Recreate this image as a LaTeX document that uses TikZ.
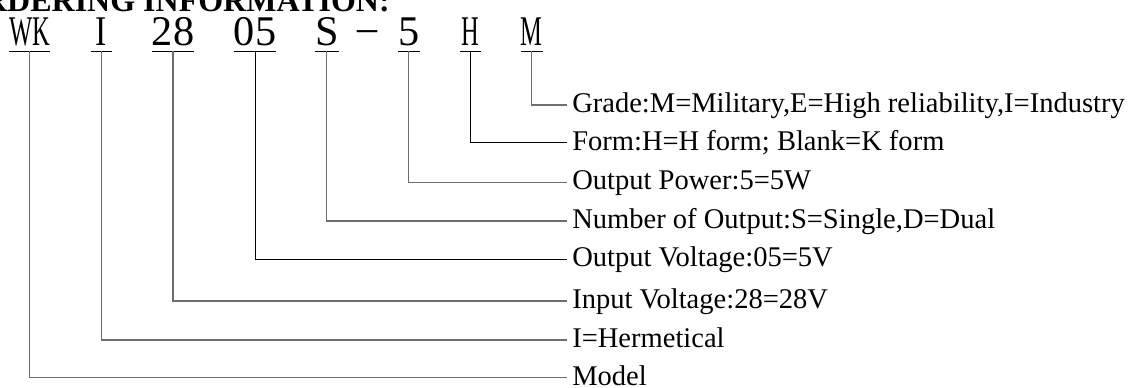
\documentclass[tikz,border=0pt]{standalone}
\usepackage{fontspec}
\setmainfont{Liberation Serif}
\usepackage{graphicx}
\usepackage{xcolor}
\definecolor{ink}{RGB}{0,0,0}
\definecolor{lgray}{RGB}{110,110,110}
\tikzset{
  code/.style={font=\fontsize{31.7}{34}\selectfont,anchor=base,inner xsep=0pt,
    inner ysep=4.5pt,text height=21pt,text depth=0pt},
  one/.style={code,minimum width=15.375pt},
  two/.style={code,minimum width=30.75pt},
  uline/.style={draw=ink,line width=0.8pt},
  lbl/.style={font=\fontsize{21.4}{25}\selectfont,anchor=west,inner xsep=3.75pt,
    inner ysep=0pt,text height=11.25pt,text depth=0pt},
  lead/.style={draw=lgray,line width=0.9pt},
  leadk/.style={draw=ink,line width=0.75pt},
  ttl/.style={font=\fontsize{24}{28}\selectfont\bfseries,anchor=base east,inner sep=0pt},
}
\newcommand{\nar}[1]{\scalebox{.58}[1]{#1}}

\begin{document}
\begin{tikzpicture}[x=0.75pt,y=-0.75pt]
  \clip (0,0) rectangle (1130,387);
  % heading, cut at the top edge
  \node[ttl] (title) at (390,11) {ORDERING INFORMATION:};

  % type code
  \node[two] (wk)  at (29.5,45)   {\nar{WK}};
  \node[one] (i)   at (101.25,45) {\scalebox{.8}[1]{I}};
  \node[two] (v28) at (173,45)    {28};
  \node[two] (v05) at (255,45)    {05};
  \node[one] (s)   at (326.75,45) {S};
  \node[one] (dash) at (367.75,41) {\scalebox{.95}[1]{--}};
  \node[one] (p5)  at (408.75,45) {5};
  \node[one] (h)   at (470.25,45) {\nar{H}};
  \node[one] (m)   at (531.75,45) {\nar{M}};
  \foreach \n in {wk,i,v28,v05,s,p5,h,m}
    \draw[uline] (\n.south west) -- (\n.south east);

  % meanings
  \node[lbl] (grade)  at (567,105)   {Grade:M=Military,E=High reliability,I=Industry};
  \node[lbl] (form)   at (567,142.7) {Form:H=H form; Blank=K form};
  \node[lbl] (power)  at (567,182.3) {Output Power:5=5W};
  \node[lbl] (number) at (567,221)   {Number of Output:S=Single,D=Dual};
  \node[lbl] (vout)   at (567,259)   {Output Voltage:05=5V};
  \node[lbl] (vin)    at (567,301)   {Input Voltage:28=28V};
  \node[lbl] (herm)   at (567,340)   {I=Hermetical};
  \node[lbl] (model)  at (567,377.7) {Model};

  \draw[lead]  (m.south)   |- (grade.west);
  \draw[leadk] (h.south)   |- (form.west);
  \draw[lead]  (p5.south)  |- (power.west);
  \draw[lead]  (s.south)   |- (number.west);
  \draw[leadk] (v05.south) |- (vout.west);
  \draw[lead]  (v28.south) |- (vin.west);
  \draw[lead]  (i.south)   |- (herm.west);
  \draw[lead]  (wk.south)  |- (model.west);
\end{tikzpicture}
\end{document}
